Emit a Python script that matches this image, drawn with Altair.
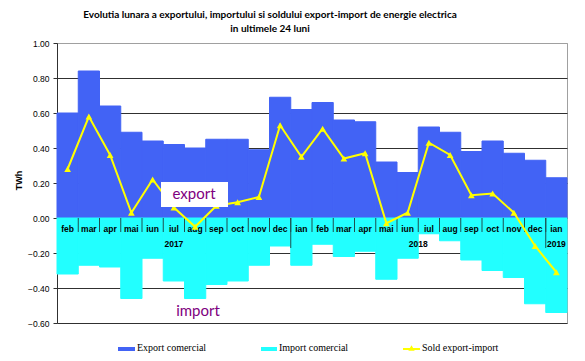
import altair as alt
import pandas as pd

months = ["feb", "mar", "apr", "mai", "iun", "iul", "aug", "sep", "oct", "nov", "dec",
          "ian", "feb", "mar", "apr", "mai", "iun", "iul", "aug", "sep", "oct", "nov", "dec",
          "ian"]
years = ["2017"] * 11 + ["2018"] * 12 + ["2019"]
export_vals = [0.60, 0.84, 0.64, 0.49, 0.44, 0.42, 0.40, 0.45, 0.45, 0.39, 0.69,
               0.62, 0.66, 0.56, 0.55, 0.32, 0.26, 0.52, 0.49, 0.38, 0.44, 0.37, 0.33,
               0.23]
import_vals = [-0.32, -0.27, -0.28, -0.46, -0.23, -0.36, -0.46, -0.38, -0.36, -0.27, -0.16,
               -0.27, -0.15, -0.22, -0.19, -0.35, -0.23, -0.09, -0.13, -0.24, -0.30, -0.34, -0.49,
               -0.54]
sold_vals = [0.28, 0.58, 0.36, 0.03, 0.22, 0.06, -0.05, 0.07, 0.09, 0.12, 0.53,
             0.35, 0.51, 0.34, 0.37, -0.03, 0.03, 0.43, 0.36, 0.13, 0.14, 0.03, -0.16,
             -0.31]
y_ticks = [-0.6, -0.4, -0.2, 0.0, 0.2, 0.4, 0.6, 0.8, 1.0]
title_lines = ["Evolutia lunara a exportului, importului si soldului export-import de energie electrica",
               "in ultimele 24 luni"]
legend_labels = ["Export comercial", "Import comercial", "Sold export-import"]

BLUE = "#4263F5"
CYAN = "#22FFFF"
YELLOW = "#FFFF00"
PURPLE = "#800080"

n = len(months)
df = pd.DataFrame({
    "idx": list(range(n)),
    "idx1": [i + 1 for i in range(n)],
    "mid": [i + 0.5 for i in range(n)],
    "month": months,
    "year": years,
    "export": export_vals,
    "imp": import_vals,
    "sold": sold_vals,
})

xs = alt.Scale(domain=[0, n], nice=False, zero=False)
ys = alt.Scale(domain=[-0.6, 1.0], nice=False, zero=False)

base = alt.Chart(df)

x_enc = alt.X("idx:Q", scale=xs, axis=None)

export_bars = base.mark_rect(color=BLUE, stroke=BLUE, strokeWidth=1).encode(
    x=x_enc, x2="idx1:Q",
    y=alt.Y("export:Q", scale=ys,
            axis=alt.Axis(values=y_ticks, tickCount=len(y_ticks), format=".2f", title="TWh",
                          labelOverlap=False,
                          gridColor=alt.condition("datum.value == 1", alt.value("#A0A0A0"), alt.value("#303030")))),
    y2=alt.Y2(datum=0),
)
import_bars = base.mark_rect(color=CYAN, stroke=CYAN, strokeWidth=1).encode(
    x=x_enc, x2="idx1:Q",
    y=alt.Y("imp:Q", scale=ys),
    y2=alt.Y2(datum=0),
)

sep = base.transform_filter("datum.idx > 0").mark_rule(color="#1F4F4F", strokeWidth=1).encode(
    x=x_enc, y=alt.Y(datum=0, scale=ys), y2=alt.value(189)
)
year_sep = base.transform_filter("datum.idx > 0 && datum.month == 'ian'").mark_rule(
    color="#1F4F4F", strokeWidth=1).encode(
    x=x_enc, y=alt.Y(datum=0, scale=ys), y2=alt.value(205)
)

month_text = base.mark_text(font="Liberation Sans", fontSize=8.5, fontWeight="bold",
                            color="black", baseline="middle", dy=11).encode(
    x=alt.X("mid:Q", scale=xs, axis=None), y=alt.Y(datum=0, scale=ys), text="month:N"
)
year_text = base.transform_aggregate(c="mean(mid)", groupby=["year"]).mark_text(
    font="Liberation Sans", fontSize=8.5, fontWeight="bold", color="black",
    baseline="middle", dy=26).encode(
    x=alt.X("c:Q", scale=xs, axis=None), y=alt.Y(datum=0, scale=ys), text="year:N"
)

line = base.mark_line(color=YELLOW, strokeWidth=2,
                      point=alt.OverlayMarkDef(shape="triangle-up", filled=True, size=45, color=YELLOW)).encode(
    x=alt.X("mid:Q", scale=xs, axis=None), y=alt.Y("sold:Q", scale=ys)
)

one = alt.Chart(pd.DataFrame({"k": [0]}))

export_box = one.mark_rect(color="white").encode(
    x=alt.value(104), x2=alt.value(171), y=alt.value(139), y2=alt.value(164))
export_lbl = one.mark_text(text="export", font="Lato", fontSize=15, color=PURPLE,
                           baseline="middle", align="center").encode(
    x=alt.value(137), y=alt.value(151))
import_lbl = one.mark_text(text="import", font="Lato", fontSize=15, color=PURPLE,
                           baseline="middle", align="center").encode(
    x=alt.value(141), y=alt.value(268))

t1 = one.mark_text(text=title_lines[0], font="Lato", fontSize=10, fontWeight="bold",
                   color="black", baseline="alphabetic", align="center").encode(
    x=alt.value(213), y=alt.value(-25.5))
t2 = one.mark_text(text=title_lines[1], font="Lato", fontSize=10, fontWeight="bold",
                   color="black", baseline="alphabetic", align="center").encode(
    x=alt.value(213), y=alt.value(-11.5))

leg_font = dict(font="Liberation Serif", fontSize=10, color="black", baseline="middle", align="left")
lg1 = one.mark_rect(color=BLUE).encode(x=alt.value(61), x2=alt.value(78), y=alt.value(304), y2=alt.value(308))
lg1t = one.mark_text(text=legend_labels[0], **leg_font).encode(x=alt.value(80), y=alt.value(305))
lg2 = one.mark_rect(color=CYAN).encode(x=alt.value(204), x2=alt.value(220), y=alt.value(304), y2=alt.value(308))
lg2t = one.mark_text(text=legend_labels[1], **leg_font).encode(x=alt.value(222), y=alt.value(305))
lg3 = one.mark_rule(color=YELLOW, strokeWidth=2).encode(x=alt.value(346), x2=alt.value(363), y=alt.value(306))
lg3p = one.mark_point(shape="triangle-up", filled=True, size=40, color=YELLOW, opacity=1).encode(
    x=alt.value(354.5), y=alt.value(305))
lg3t = one.mark_text(text=legend_labels[2], **leg_font).encode(x=alt.value(365), y=alt.value(305))

chart = alt.layer(
    export_bars, import_bars, sep, year_sep, month_text, year_text, line,
    export_box, export_lbl, import_lbl, t1, t2,
    lg1, lg1t, lg2, lg2t, lg3, lg3p, lg3t,
).properties(
    width=510, height=280,
    autosize=alt.AutoSizeParams(type="none"),
    padding={"left": 49, "top": 35, "right": 10, "bottom": 30},
).configure_view(
    stroke="#A0A0A0", strokeWidth=1
).configure_axisY(
    labelFont="Liberation Sans", labelFontSize=8.5, labelColor="black", labelPadding=4,
    tickColor="#303030", tickSize=4, domainColor="#303030",
    titleFont="Liberation Sans", titleFontSize=9, titleFontWeight="bold", titleColor="black",
    titleX=-39, titleY=137, titleBaseline="middle", titleAlign="center", titleAngle=270,
)

chart.save("out.html", embed_options={"renderer": "svg", "actions": False})
